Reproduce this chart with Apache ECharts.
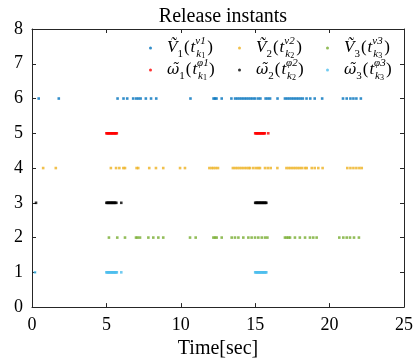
<!DOCTYPE html>
<html><head><meta charset="utf-8">
<script src="https://cdn.jsdelivr.net/npm/echarts@6/dist/echarts.min.js"></script>
<style>html,body{margin:0;padding:0;background:#fff}#c{width:416px;height:364px}</style>
</head><body><div id="c"></div>
<script>
const xTicks = [0, 5, 10, 15, 20, 25];
const yTicks = [0, 1, 2, 3, 4, 5, 6, 7, 8];
const seriesNames = ['V1', 'V2', 'V3', 'w1', 'w2', 'w3'];
const seriesLevels = [6, 4, 2, 5, 3, 1];
const V1_t = [0.45, 1.8, 5.75, 6.15, 6.4, 6.8, 7.0, 7.15, 7.3, 7.65, 8.0, 8.35, 10.65, 12.2, 12.3, 12.4, 12.75, 13.4, 13.65, 13.8, 13.95, 14.1, 14.25, 14.4, 14.55, 14.7, 14.85, 15.0, 15.2, 15.35, 15.7, 15.85, 16.0, 16.5, 17.0, 17.15, 17.3, 17.45, 17.6, 17.75, 17.9, 18.05, 18.2, 18.45, 18.7, 19.0, 19.5, 20.9, 21.15, 21.4, 21.6, 21.8, 22.1];
const V2_t = [0.75, 1.6, 5.3, 5.65, 5.87, 6.14, 6.25, 7.03, 7.14, 7.88, 8.33, 8.82, 9.95, 10.28, 11.92, 12.07, 12.2, 12.35, 12.5, 13.5, 13.65, 13.8, 13.95, 14.1, 14.25, 14.4, 14.55, 14.65, 14.87, 15.05, 15.2, 15.32, 15.66, 15.85, 16.04, 16.49, 17.1, 17.25, 17.4, 17.55, 17.7, 17.85, 18.0, 18.15, 18.35, 18.46, 18.8, 19.0, 19.24, 19.53, 21.19, 21.4, 21.6, 21.8, 22.0, 22.16];
const V3_t = [5.17, 5.73, 6.25, 6.99, 7.1, 7.26, 7.82, 8.15, 8.49, 8.82, 10.62, 11.0, 12.19, 12.3, 12.41, 12.75, 13.42, 13.64, 13.87, 14.2, 14.54, 14.76, 14.99, 15.21, 15.44, 15.66, 15.82, 17.0, 17.12, 17.24, 17.34, 17.67, 18.0, 18.35, 18.68, 18.9, 19.13, 20.65, 20.92, 21.15, 21.37, 21.64, 21.97];
const W1_t = [5.0, 5.05, 5.1, 5.15, 5.2, 5.25, 5.3, 5.35, 5.4, 5.45, 5.5, 5.55, 5.6, 5.65, 5.7, 15.0, 15.05, 15.1, 15.15, 15.2, 15.25, 15.3, 15.35, 15.4, 15.45, 15.5, 15.55, 15.6, 15.65, 15.88];
const W2_t = [0.27, 5.0, 5.05, 5.1, 5.15, 5.2, 5.25, 5.3, 5.35, 5.4, 5.45, 5.5, 5.55, 5.6, 5.67, 6.0, 15.0, 15.05, 15.1, 15.15, 15.2, 15.25, 15.3, 15.35, 15.4, 15.45, 15.5, 15.55, 15.6, 15.65, 15.7, 15.75];
const W3_t = [0.2, 5.0, 5.05, 5.1, 5.15, 5.2, 5.25, 5.3, 5.35, 5.4, 5.45, 5.5, 5.55, 5.6, 5.65, 5.7, 6.0, 15.0, 15.05, 15.1, 15.15, 15.2, 15.25, 15.3, 15.35, 15.4, 15.45, 15.5, 15.55, 15.6, 15.65, 15.7, 15.75];
const seriesTimes = [V1_t, V2_t, V3_t, W1_t, W2_t, W3_t];
const colors = ['#0072BD', '#EDB120', '#77AC30', '#FF0000', '#000000', '#4DBEEE'];
const legendLabels = {
  V1: '{m|Ṽ}{d|1}{r|(}{m|t}{p|v1}{s|k}{ss|1}{r|)}',
  V2: '{m|Ṽ}{d|2}{r|(}{m|t}{p|v2}{s|k}{ss|2}{r|)}',
  V3: '{m|Ṽ}{d|3}{r|(}{m|t}{p|v3}{s|k}{ss|3}{r|)}',
  w1: '{w|ω̃}{d|1}{r|(}{m|t}{p|φ1}{s|k}{ss|1}{r|)}',
  w2: '{w|ω̃}{d|2}{r|(}{m|t}{p|φ2}{s|k}{ss|2}{r|)}',
  w3: '{w|ω̃}{d|3}{r|(}{m|t}{p|φ3}{s|k}{ss|3}{r|)}'
};
const legendPos = {V1: [149, 36], V2: [238, 36], V3: [326, 36], w1: [149, 58], w2: [238, 58], w3: [326, 58]};

const FONT = 'Liberation Serif';
const axisColor = '#262626';
const rich = {
  m: {fontFamily: FONT, fontSize: 17, fontStyle: 'italic', lineHeight: 24, color: '#000'},
  r: {fontFamily: FONT, fontSize: 17, lineHeight: 24, color: '#000', padding: [0, 1, 0, 1]},
  w: {fontFamily: 'DejaVu Serif', fontSize: 15, fontStyle: 'italic', lineHeight: 24, color: '#000'},
  d: {fontFamily: FONT, fontSize: 11, lineHeight: 12, verticalAlign: 'bottom', color: '#000'},
  s: {fontFamily: FONT, fontSize: 11, fontStyle: 'italic', lineHeight: 12, verticalAlign: 'bottom', color: '#000'},
  ss: {fontFamily: FONT, fontSize: 8, lineHeight: 6, verticalAlign: 'bottom', color: '#000', padding: [0, 1, 0, 0]},
  p: {fontFamily: FONT, fontSize: 11, fontStyle: 'italic', lineHeight: 12, verticalAlign: 'top', width: 1, color: '#000'}
};

const chart = echarts.init(document.getElementById('c'), null, {renderer: 'canvas'});
const series = seriesNames.map((n, i) => ({
  name: n, type: 'scatter', symbol: 'rect', symbolSize: 2.6,
  itemStyle: {color: colors[i]},
  data: seriesTimes[i].map(t => [t, seriesLevels[i]]),
  xAxisIndex: 0, yAxisIndex: 0, animation: false
}));
const legends = seriesNames.map(n => ({
  data: [n], left: legendPos[n][0], top: legendPos[n][1],
  icon: 'circle', itemWidth: 3, itemHeight: 3, itemGap: 0,
  padding: 0, selectedMode: false,
  formatter: () => legendLabels[n],
  textStyle: {rich: rich, padding: [0, 0, 0, 10]}
}));
const axisCommon = {
  min: 0, interval: 5, max: 25,
  axisLine: {show: true, onZero: false, lineStyle: {color: axisColor, width: 1}},
  axisTick: {show: true, inside: true, length: 4, lineStyle: {color: axisColor}},
  splitLine: {show: false}
};
chart.setOption({
  animation: false,
  title: {text: 'Release instants', left: 218, top: 2, textAlign: 'center',
    textStyle: {fontFamily: FONT, fontSize: 20, fontWeight: 'normal', color: '#000'}},
  legend: legends,
  grid: {left: 32, right: 12, top: 29, bottom: 55},
  xAxis: [
    Object.assign({}, axisCommon, {type: 'value', position: 'bottom',
      name: 'Time[sec]', nameLocation: 'middle', nameGap: 30,
      nameTextStyle: {fontFamily: FONT, fontSize: 20, color: '#000'},
      axisLabel: {fontFamily: FONT, fontSize: 18, color: '#000', margin: 9,
        formatter: v => xTicks.includes(v) ? String(v) : ''}}),
    Object.assign({}, axisCommon, {type: 'value', position: 'top', axisLabel: {show: false}})
  ],
  yAxis: [
    Object.assign({}, axisCommon, {type: 'value', min: 0, max: 8, interval: 1, position: 'left',
      axisLabel: {fontFamily: FONT, fontSize: 18, color: '#000', margin: 9,
        formatter: v => yTicks.includes(v) ? String(v) : ''}}),
    Object.assign({}, axisCommon, {type: 'value', min: 0, max: 8, interval: 1, position: 'right', axisLabel: {show: false}})
  ],
  series: series
});
</script></body></html>
